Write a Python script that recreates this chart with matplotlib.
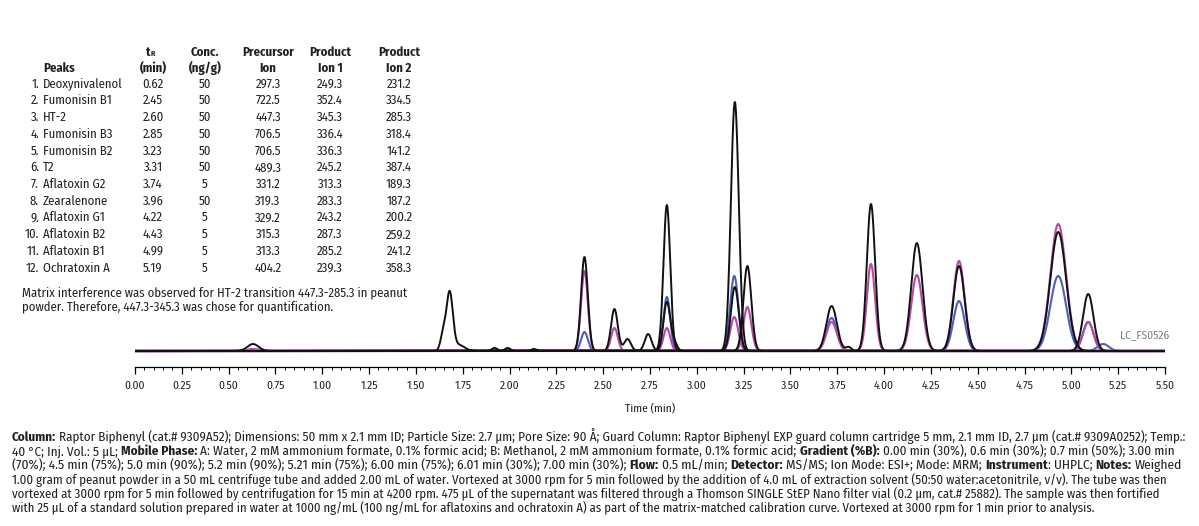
import numpy as np
import matplotlib
matplotlib.use('Agg')
import matplotlib.pyplot as plt
from matplotlib import font_manager as fm
from matplotlib.transforms import IdentityTransform

W, H = 1199, 526

# ---------------- data ----------------
peak_nums = ["1.", "2.", "3.", "4.", "5.", "6.", "7.", "8.", "9.", "10.", "11.", "12."]
compounds = ["Deoxynivalenol", "Fumonisin B1", "HT-2", "Fumonisin B3", "Fumonisin B2", "T2",
             "Aflatoxin G2", "Zearalenone", "Aflatoxin G1", "Aflatoxin B2", "Aflatoxin B1", "Ochratoxin A"]
tr_min = ["0.62", "2.45", "2.60", "2.85", "3.23", "3.31", "3.74", "3.96", "4.22", "4.43", "4.99", "5.19"]
conc = ["50", "50", "50", "50", "50", "50", "5", "50", "5", "5", "5", "5"]
precursor = ["297.3", "722.5", "447.3", "706.5", "706.5", "489.3", "331.2", "319.3", "329.2", "315.3", "313.3", "404.2"]
ion1 = ["249.3", "352.4", "345.3", "336.4", "336.3", "245.2", "313.3", "283.3", "243.2", "287.3", "285.2", "239.3"]
ion2 = ["231.2", "334.5", "285.3", "318.4", "141.2", "387.4", "189.3", "187.2", "200.2", "259.2", "241.2", "358.3"]

x_ticks = [0.00, 0.25, 0.50, 0.75, 1.00, 1.25, 1.50, 1.75, 2.00, 2.25, 2.50, 2.75,
           3.00, 3.25, 3.50, 3.75, 4.00, 4.25, 4.50, 4.75, 5.00, 5.25, 5.50]

# chromatogram peaks: retention time (min), height (relative), sigma (min), channel group
black_rt = [0.63, 1.645, 1.68, 1.73, 1.92, 1.99, 2.13, 2.40, 2.56, 2.63, 2.74, 2.84, 2.84, 2.88,
            3.203, 3.203, 3.27, 3.72, 3.81, 3.93, 4.175, 4.40, 4.93, 5.09]
black_h = [7, 16, 58, 6, 3, 3, 2, 94, 42, 12, 17, 146, 49, 8,
           249, 64, 85, 45, 4, 147, 108, 85, 119, 57]
black_w = [0.03, 0.014, 0.017, 0.03, 0.015, 0.015, 0.015, 0.018, 0.018, 0.018, 0.018, 0.018, 0.018, 0.015,
           0.021, 0.021, 0.021, 0.028, 0.015, 0.022, 0.030, 0.030, 0.042, 0.028]
black_grp = [0, 1, 1, 1, 1, 1, 1, 2, 3, 3, 4, 5, 6, 6,
             7, 8, 9, 10, 10, 11, 12, 13, 14, 15]

blue_rt = [2.40, 2.84, 3.20, 3.72, 4.40, 4.93, 5.09, 5.17]
blue_h = [19, 54, 75, 33, 50, 75, 29, 7]
blue_w = [0.018, 0.018, 0.022, 0.028, 0.030, 0.042, 0.028, 0.03]
blue_grp = [0, 1, 2, 3, 4, 5, 6, 7]

pink_rt = [0.63, 2.40, 2.56, 2.84, 3.20, 3.27, 3.72, 3.93, 4.175, 4.40, 4.93, 5.09]
pink_h = [2, 80, 23, 23, 34, 44, 29, 87, 76, 90, 127, 29]
pink_w = [0.04, 0.018, 0.018, 0.018, 0.021, 0.021, 0.028, 0.022, 0.030, 0.030, 0.042, 0.028]
pink_grp = [0, 1, 2, 3, 4, 5, 6, 7, 8, 9, 10, 11]

footnote = [
    [("Column:", True), (" Raptor Biphenyl (cat.# 9309A52); Dimensions: 50 mm x 2.1 mm ID; Particle Size: 2.7 µm; Pore Size: 90 Å; Guard Column: Raptor Biphenyl EXP guard column cartridge 5 mm, 2.1 mm ID, 2.7 µm (cat.# 9309A0252); Temp.:", False)],
    [("40 °C; Inj. Vol.: 5 µL; ", False), ("Mobile Phase:", True), (" A: Water, 2 mM ammonium formate, 0.1% formic acid; B: Methanol, 2 mM ammonium formate, 0.1% formic acid; ", False), ("Gradient (%B):", True), (" 0.00 min (30%), 0.6 min (30%); 0.7 min (50%); 3.00 min", False)],
    [("(70%); 4.5 min (75%); 5.0 min (90%); 5.2 min (90%); 5.21 min (75%); 6.00 min (75%); 6.01 min (30%); 7.00 min (30%); ", False), ("Flow:", True), (" 0.5 mL/min; ", False), ("Detector:", True), (" MS/MS; Ion Mode: ESI+; Mode: MRM; ", False), ("Instrument", True), (": UHPLC; ", False), ("Notes:", True), (" Weighed", False)],
    [("1.00 gram of peanut powder in a 50 mL centrifuge tube and added 2.00 mL of water. Vortexed at 3000 rpm for 5 min followed by the addition of 4.0 mL of extraction solvent (50:50 water:acetonitrile, v/v). The tube was then", False)],
    [("vortexed at 3000 rpm for 5 min followed by centrifugation for 15 min at 4200 rpm. 475 µL of the supernatant was filtered through a Thomson SINGLE StEP Nano filter vial (0.2 µm, cat.# 25882). The sample was then fortified", False)],
    [("with 25 µL of a standard solution prepared in water at 1000 ng/mL (100 ng/mL for aflatoxins and ochratoxin A) as part of the matrix-matched calibration curve. Vortexed at 3000 rpm for 1 min prior to analysis.", False)],
]
note_lines = ["Matrix interference was observed for HT-2 transition 447.3-285.3 in peanut",
              "powder. Therefore, 447.3-345.3 was chose for quantification."]

# ---------------- fonts ----------------
names = set(f.name for f in fm.fontManager.ttflist)
FONT = 'Liberation Sans'
for cand in ['Fira Sans Condensed', 'Roboto Condensed', 'Open Sans Condensed', 'PT Sans Narrow',
             'Archivo Narrow', 'Asap Condensed', 'Encode Sans Condensed', 'Liberation Sans Narrow']:
    if cand in names:
        FONT = cand
        break
FAM = [FONT, 'DejaVu Sans']
TXT = '#231f20'

fig = plt.figure(figsize=(W / 100, H / 100), dpi=100)
renderer = fig.canvas.get_renderer()
ID = IdentityTransform()


def ptext(x, y, s, **kw):
    kw.setdefault('family', FAM)
    kw.setdefault('color', TXT)
    return fig.text(x, H - y, s, transform=ID, **kw)


def width_px(s, size, bold=False):
    t = fig.text(0, 0, s, fontsize=size, fontweight='bold' if bold else 'normal', family=FAM, transform=ID)
    w = t.get_window_extent(renderer).width
    t.remove()
    return w


def rich_width(segs, size):
    sp = width_px('a a', size) - width_px('aa', size)
    x = 0
    for s, b in segs:
        lead = len(s) - len(s.lstrip(' '))
        trail = len(s) - len(s.rstrip(' '))
        core = s.strip(' ')
        x += lead * sp
        if core:
            x += width_px(core, size, b)
        x += trail * sp
    return x


def rich_line(x, y, segs, size):
    sp = width_px('a a', size) - width_px('aa', size)
    for s, b in segs:
        lead = len(s) - len(s.lstrip(' '))
        trail = len(s) - len(s.rstrip(' '))
        core = s.strip(' ')
        x += lead * sp
        if core:
            ptext(x, y, core, fontsize=size, fontweight='bold' if b else 'normal', ha='left', va='baseline')
            x += width_px(core, size, b)
        x += trail * sp


# ---------------- chromatogram ----------------
ax = fig.add_axes([135 / W, (H - 367) / H, 1030 / W, 267 / H])
t = np.linspace(0, 5.5, 4000)


def draw_channel(rts, hs, ws, grps, color, lw, z):
    for g in sorted(set(grps)):
        y = np.zeros_like(t)
        for r, h, w, gg in zip(rts, hs, ws, grps):
            if gg == g:
                y += h * np.exp(-0.5 * ((t - r) / w) ** 2)
        ax.plot(t, y, color=color, lw=lw, zorder=z, solid_capstyle='round')


draw_channel(blue_rt, blue_h, blue_w, blue_grp, '#4a5fc1', 1.5, 2)
draw_channel(pink_rt, pink_h, pink_w, pink_grp, '#b64aa3', 1.5, 3)
draw_channel(black_rt, black_h, black_w, black_grp, '#111111', 1.4, 4)

ax.set_xlim(0, 5.5)
ax.set_ylim(-16, 251)
for s in ['top', 'left', 'right']:
    ax.spines[s].set_visible(False)
ax.spines['bottom'].set_linewidth(0.9)
ax.set_yticks([])
ax.set_xticks(x_ticks)
ax.set_xticklabels([f"{v:.2f}" for v in x_ticks], family=FAM, fontsize=8.3, color=TXT)
ax.set_xticks(np.arange(0, 5.5001, 0.05), minor=True)
ax.tick_params(axis='x', which='major', length=5, width=0.9, direction='out', pad=4.5)
ax.tick_params(axis='x', which='minor', length=2.5, width=0.7, direction='out')
ax.patch.set_alpha(0)

ptext(650, 409, 'Time (min)', fontsize=8.3, ha='center', va='center')
ptext(1120, 335, 'LC_FS0526', fontsize=8.3, ha='left', va='center', color='#7f7f7f')

# ---------------- peak table ----------------
tsize = 10 * 385 / width_px(note_lines[0], 10)
hdr = dict(fontsize=tsize, fontweight='bold', va='center')
col_x = [153, 205, 268, 330, 399]
# header row 1
ptext(151, 52, 't', ha='right', **hdr)
ptext(151, 54, 'R', fontsize=tsize * 0.62, fontweight='bold', ha='left', va='center')
ptext(col_x[1], 52, 'Conc.', ha='center', **hdr)
ptext(col_x[2], 52, 'Precursor', ha='center', **hdr)
ptext(col_x[3], 52, 'Product', ha='center', **hdr)
ptext(col_x[4], 52, 'Product', ha='center', **hdr)
# header row 2
ptext(43, 68, 'Peaks', ha='left', **hdr)
ptext(col_x[0], 68, '(min)', ha='center', **hdr)
ptext(col_x[1], 68, '(ng/g)', ha='center', **hdr)
ptext(col_x[2], 68, 'Ion', ha='center', **hdr)
ptext(col_x[3], 68, 'Ion 1', ha='center', **hdr)
ptext(col_x[4], 68, 'Ion 2', ha='center', **hdr)

for i in range(12):
    yy = 84 + i * 16.72
    ptext(39, yy, peak_nums[i], fontsize=tsize, ha='right', va='center')
    ptext(43, yy, compounds[i], fontsize=tsize, ha='left', va='center')
    for cx, vals in zip(col_x, [tr_min, conc, precursor, ion1, ion2]):
        ptext(cx, yy, vals[i], fontsize=tsize, ha='center', va='center')

ptext(22, 293, note_lines[0], fontsize=tsize, ha='left', va='center')
ptext(22, 307, note_lines[1], fontsize=tsize, ha='left', va='center')

# ---------------- footnote ----------------
line_right = [1183, 1172, 1182, 1163, 1157, 1091]
base_size = 10 * 1171 / rich_width(footnote[0], 10)
for k, segs in enumerate(footnote):
    target = line_right[k] - 12
    size = 10 * target / rich_width(segs, 10)
    size = min(max(size, base_size * 0.95), base_size * 1.05)
    rich_line(12, 441 + k * 14.2, segs, size)

fig.savefig('out.png', dpi=100)
